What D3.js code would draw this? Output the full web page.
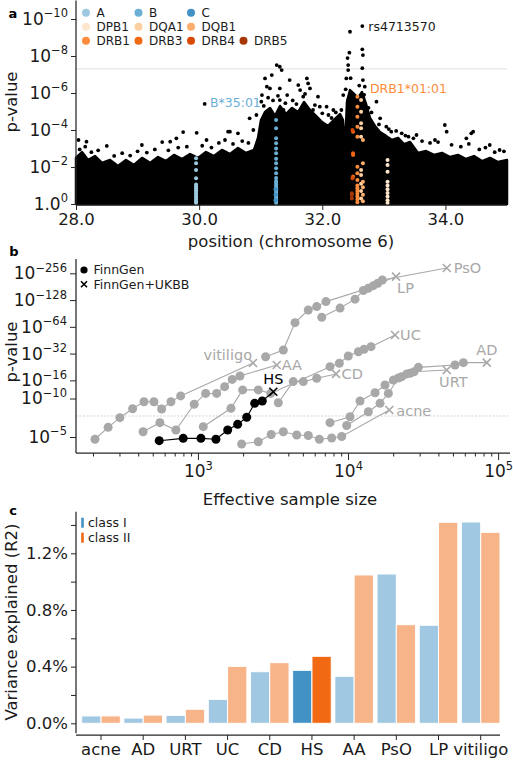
<!DOCTYPE html>
<html>
<head>
    <meta charset="utf-8" />
    <title>HLA associations</title>
    <style>
        body { margin: 0; background: #ffffff; }
        svg { font-family: 'DejaVu Sans', sans-serif; }
        .spine { stroke: #262626; stroke-width: 1.25px; fill: none; }
        .ticklabel { font-size: 16.5px; fill: #1a1a1a; }
        .mathlabel { font-size: 17px; fill: #1a1a1a; }
        .axislabel { font-size: 16.5px; fill: #1a1a1a; }
        .legend { font-size: 12.5px; fill: #1a1a1a; }
        .panel { font-size: 13px; font-weight: bold; fill: #000; }
        .dlabel { font-size: 14.5px; }
    </style>
    <script src="https://cdn.jsdelivr.net/npm/d3@7/dist/d3.min.js"></script>
</head>
<body>
<svg width="513" height="761"></svg>
<script>
    // ---- panel a: chromosome 6 MHC region, position (Mb) and -log10(p) ----
    // upper edge of the dense cloud of SNPs
    var denseEdge = [
        [28.000, 2.49], [28.097, 2.81], [28.195, 2.38], [28.309, 2.59], [28.422, 2.22], [28.552, 2.38],
        [28.682, 2.05], [28.812, 2.38], [28.942, 2.11], [29.072, 2.49], [29.202, 2.22], [29.332, 2.54],
        [29.462, 2.32], [29.592, 2.65], [29.722, 2.43], [29.852, 2.70], [29.981, 2.49], [30.111, 2.81],
        [30.241, 2.59], [30.371, 2.92], [30.501, 2.70], [30.631, 3.03], [30.761, 2.76], [30.891, 2.92],
        [30.956, 3.57], [31.005, 4.54], [31.070, 4.97], [31.151, 5.19], [31.232, 4.76], [31.313, 5.30],
        [31.411, 4.86], [31.508, 5.19], [31.606, 4.97], [31.703, 5.51], [31.801, 5.08], [31.898, 4.76],
        [31.996, 4.43], [32.093, 4.22], [32.190, 4.54], [32.288, 4.86], [32.336, 4.54], [32.369, 2.92],
        [32.401, 5.51], [32.450, 6.16], [32.515, 5.95], [32.580, 5.73], [32.645, 6.05], [32.710, 5.41],
        [32.775, 4.65], [32.856, 4.22], [32.937, 3.89], [33.035, 3.68], [33.132, 3.46], [33.230, 3.57],
        [33.327, 3.24], [33.425, 3.35], [33.555, 2.76], [33.685, 2.86], [33.814, 2.65], [33.944, 2.76],
        [34.074, 2.54], [34.204, 2.65], [34.334, 2.43], [34.464, 2.59], [34.594, 2.32], [34.724, 2.49],
        [34.854, 2.27], [35.000, 2.38]
    ];
    // SNPs standing out above the cloud
    var sparseSnps = [
        [28.04, 3.46], [28.17, 3.37], [28.15, 3.10], [28.50, 3.14], [29.07, 3.19], [29.40, 3.35],
        [29.53, 3.37], [29.63, 3.55], [29.74, 3.89], [29.96, 3.85], [30.09, 5.41], [30.12, 3.46],
        [30.47, 3.91], [30.63, 3.82], [30.88, 4.00], [30.42, 3.46], [30.50, 3.91], [30.82, 4.63],
        [30.93, 4.81], [31.01, 5.53],
        [31.26, 7.51], [31.31, 7.42], [31.34, 7.24], [31.07, 6.79], [31.10, 6.34], [31.15, 6.25],
        [31.31, 6.25], [31.47, 6.70], [31.61, 6.43], [31.75, 6.79], [31.77, 6.52], [31.64, 6.16],
        [31.69, 5.80], [31.80, 6.25], [31.31, 5.62], [31.37, 5.08], [31.93, 5.80], [31.96, 5.26],
        [32.07, 5.26], [32.18, 5.08], [31.85, 5.08], [32.10, 4.81], [32.29, 4.54], [31.18, 6.97],
        [31.43, 5.89], [31.02, 5.89],
        [32.45, 9.31], [32.65, 9.62], [32.44, 8.18], [32.65, 8.36], [32.66, 8.05], [32.42, 7.51],
        [32.42, 7.24], [32.39, 6.79], [32.65, 7.34], [32.66, 6.70], [32.69, 6.34], [32.34, 5.89],
        [32.42, 5.62], [32.31, 5.08], [32.88, 5.53], [32.94, 4.63], [32.41, 7.89],
        [33.04, 4.18], [33.12, 3.91], [33.26, 3.28], [33.29, 3.82], [33.40, 3.64], [33.53, 3.73],
        [33.83, 3.46], [33.99, 4.27], [34.02, 3.91], [34.34, 3.55], [34.42, 3.82], [34.45, 3.91],
        [34.72, 3.19], [34.88, 2.92],
        [28.06, 2.95], [28.25, 2.80], [28.36, 2.90], [28.62, 2.60], [28.75, 2.75], [28.88, 2.62],
        [29.00, 2.85], [29.15, 2.78], [29.28, 2.95], [29.50, 2.90], [29.66, 3.05], [29.80, 3.10],
        [30.05, 3.15], [30.20, 3.05], [30.32, 3.30], [30.55, 3.25], [30.70, 3.40], [30.80, 3.30],
        [31.05, 5.30], [31.12, 5.75], [31.20, 5.60], [31.28, 5.85], [31.40, 5.45], [31.52, 5.60],
        [31.58, 5.40], [31.72, 5.95], [31.88, 5.35], [32.00, 4.90], [32.15, 4.65], [32.22, 4.95],
        [32.38, 6.20], [32.46, 6.80], [32.60, 6.40], [32.68, 5.90], [32.75, 5.20], [32.80, 4.95],
        [32.92, 4.30],
        [33.08, 4.05], [33.20, 3.95], [33.35, 3.70], [33.48, 3.55], [33.62, 3.40], [33.75, 3.30],
        [33.88, 3.35], [34.10, 3.20], [34.25, 3.10], [34.38, 3.25], [34.55, 2.95], [34.65, 3.05],
        [34.80, 2.80], [34.95, 2.85]
    ];
    // HLA alleles, in legend order
    var hlaGenes = ['A', 'DPB1', 'DRB1', 'B', 'DQA1', 'DRB3', 'C', 'DQB1', 'DRB4', 'DRB5'];
    var hlaColors = ['#9ecae1', '#fee6ce', '#fd8d3c', '#6baed6', '#fdd0a2', '#f16913', '#4292c6', '#fdae6b', '#d94801', '#a63603'];
    var hlaGenePos = [29.95, 33.06, 32.57, 31.25, 32.63, 32.50, 31.24, 32.66, 32.49, 32.48];
    var hlaAlleleLogP = [
        [0.05, 0.15, 0.25, 0.35, 0.45, 0.55, 0.65, 0.75, 0.85, 0.95, 1.05, 1.39, 1.84, 2.2, 2.47],
        [0.05, 0.2, 0.4, 0.6, 0.8, 1.0, 1.2, 1.75, 2.11, 2.38],
        [0.1, 0.25, 0.4, 0.55, 0.7, 0.85, 1.0, 1.3, 1.66, 2.02, 3.64, 4.18, 4.72, 5.26, 5.8],
        [0.05, 0.15, 0.25, 0.35, 0.45, 0.55, 0.65, 0.75, 0.85, 0.95, 1.05, 1.15, 1.25, 1.4, 1.66, 1.93, 2.2, 2.45, 2.74, 3.0, 3.28, 3.55, 4.09, 4.54],
        [0.3, 0.7, 1.1, 1.57, 1.84, 3.64, 4.09, 4.36, 4.99, 5.62],
        [1.48, 2.65, 2.74, 3.91],
        [0.2, 0.5, 0.8],
        [0.15, 0.5, 0.9, 1.2, 2.2, 3.46],
        [1.39, 4.0],
        [0.3, 0.49, 0.58]
    ];
    var snpLabels = ['rs4713570', 'B*35:01', 'DRB1*01:01'];
    var snpLabelAt = [[32.65, 9.62], [30.09, 5.41], [32.57, 5.8]];
    var posTicks = [28, 30, 32, 34];
    var logPTicksA = [0, 2, 4, 6, 8, 10];
    var gwsLogP = -Math.log10(5e-8);

    // ---- panel b: FinnGen increments and FinnGen+UKBB meta-analysis ----
    var diseasesB = ['vitiligo', 'AA', 'HS', 'UC', 'CD', 'PsO', 'LP', 'acne', 'AD', 'URT'];
    var finngenN = [
        [206, 252, 302, 367, 437, 509, 573, 661, 767],
        [431, 558, 713, 944, 1126, 1333, 1507, 1693, 1905],
        [552, 798, 1047, 1318, 1578, 1839, 2113, 2388, 2684],
        [1085, 1660, 1986, 2523, 3053, 7586, 8750, 10040, 11720, 12790, 14230],
        [3431, 4315, 5035, 6185],
        [2825, 3707, 4434, 5433, 6185, 7129, 13650, 15780, 16930],
        [6679, 8850, 11140, 12650, 14750],
        [1954, 2523, 3076, 3707, 4550, 5433, 6442, 7780, 9078],
        [7586, 10310, 12020, 15140, 17640, 20050, 22800, 25880, 29420, 51640, 58720],
        [9795, 13650, 16340, 18570, 21640, 24620, 27540]
    ];
    var finngenLogP = [
        [4.80, 5.95, 7.08, 8.32, 9.44, 9.44, 8.28, 9.44, 10.7],
        [5.50, 6.47, 5.67, 9.01, 11.4, 11.4, 13.6, 16.4, 17.9],
        [4.68, 4.88, 4.88, 4.80, 5.67, 6.28, 7.13, 9.17, 9.56],
        [6.02, 8.38, 12.5, 12.5, 11.4, 22.8, 24.9, 30.1, 33.6, 35.8, 38.3],
        [9.27, 15.5, 15.5, 16.9],
        [29.5, 35.1, 71.3, 99.0, 108, 123, 174, 198, 215],
        [81.9, 104, 131, 164, 186],
        [4.41, 4.59, 5.23, 5.50, 5.18, 5.14, 4.80, 4.91, 5.05],
        [6.47, 7.20, 9.56, 11.6, 14.2, 16.1, 17.6, 19.2, 22.4, 23.8, 25.3],
        [6.15, 7.88, 9.17, 11.4, 17.0, 18.9, 20.0]
    ];
    var combinedN = [2328, 3350, 3178, 20570, 8318, 45500, 20890, 18840, 84070, 45500];
    var combinedLogP = [25.1, 23.8, 11.9, 51.8, 18.9, 294, 235, 8.13, 25.3, 20.9];
    var logPTicksB = [5, 10, 16, 32, 64, 128, 256];
    var nTicksB = [1e3, 1e4, 1e5];

    // ---- panel c: variance explained (%) ----
    var diseasesC = ['acne', 'AD', 'URT', 'UC', 'CD', 'HS', 'AA', 'PsO', 'LP', 'vitiligo'];
    var r2ClassI = [0.052, 0.037, 0.056, 0.169, 0.364, 0.374, 0.332, 1.054, 0.692, 1.421];
    var r2ClassII = [0.052, 0.058, 0.099, 0.402, 0.428, 0.473, 1.047, 0.696, 1.419, 1.348];
    var hlaClasses = ['class I', 'class II'];
    var r2Ticks = [0, 0.2, 0.4, 0.6, 0.8, 1.0, 1.2, 1.4];

    var svg = d3.select('svg');
    var grey = '#a8a8a8';

    function tidyAxis(g) {
        g.attr('font-family', null).attr('font-size', null);
        g.select('.domain').remove();
        g.selectAll('.tick line').attr('stroke', '#262626');
        g.selectAll('.tick text').attr('fill', null).attr('class', 'ticklabel');
    }

    function powerLabel(text, base, exp) {
        text.text(null).attr('class', 'mathlabel');
        text.append('tspan').text(base);
        text.append('tspan').attr('dy', -7.5).attr('font-size', '11.5px').text(exp);
    }

    function spine(g, x1, y1, x2, y2) {
        g.append('line').attr('class', 'spine')
            .attr('x1', x1).attr('y1', y1).attr('x2', x2).attr('y2', y2);
    }

    function yLabel(g, x, y, txt) {
        g.append('text').attr('class', 'axislabel')
            .attr('transform', 'translate(' + x + ',' + y + ') rotate(-90)')
            .attr('text-anchor', 'middle').attr('dy', '0.35em').text(txt);
    }

    // ================= panel a =================
    var xA = d3.scaleLinear().domain([28, 35]).range([76, 507]);
    var yA = d3.scaleLinear().domain([0, 11]).range([204, 0.5]);
    var panelA = svg.append('g');

    panelA.append('line')
        .attr('x1', xA(28)).attr('x2', xA(35))
        .attr('y1', yA(gwsLogP)).attr('y2', yA(gwsLogP))
        .attr('stroke', '#e0e0e0').attr('stroke-width', 1);

    panelA.append('path').datum(denseEdge)
        .attr('fill', '#000').attr('stroke', '#000').attr('stroke-width', 2.5)
        .attr('stroke-linejoin', 'round')
        .attr('d', d3.area().x(function(d) { return xA(d[0]); })
            .y0(yA(0)).y1(function(d) { return yA(d[1]); }));

    panelA.selectAll('circle.snp').data(sparseSnps).enter().append('circle')
        .attr('class', 'snp')
        .attr('cx', function(d) { return xA(d[0]); })
        .attr('cy', function(d) { return yA(d[1]); })
        .attr('r', 1.9).attr('fill', '#000');

    var alleles = [];
    hlaGenes.forEach(function(g, i) {
        hlaAlleleLogP[i].forEach(function(v) {
            alleles.push({ gene: g, color: hlaColors[i], pos: hlaGenePos[i], logp: v });
        });
    });
    panelA.selectAll('circle.allele').data(alleles).enter().append('circle')
        .attr('class', 'allele')
        .attr('cx', function(d) { return xA(d.pos); })
        .attr('cy', function(d) { return yA(d.logp); })
        .attr('r', 2).attr('fill', function(d) { return d.color; });

    var snpLabelStyle = [
        { dx: 6, dy: 0.7, color: '#1a1a1a' },
        { dx: 5.3, dy: -1.3, color: '#6baed6' },
        { dx: 12.5, dy: -8.4, color: '#fd8d3c' }
    ];
    panelA.selectAll('text.snplabel').data(snpLabels).enter().append('text')
        .attr('class', 'legend snplabel')
        .attr('x', function(d, i) { return xA(snpLabelAt[i][0]) + snpLabelStyle[i].dx; })
        .attr('y', function(d, i) { return yA(snpLabelAt[i][1]) + snpLabelStyle[i].dy; })
        .attr('dy', '0.35em')
        .style('fill', function(d, i) { return snpLabelStyle[i].color; })
        .text(function(d) { return d; });

    // legend: three columns of three, the tenth entry closes the last row
    var legA = panelA.selectAll('g.leg').data(hlaGenes).enter().append('g')
        .attr('class', 'leg')
        .attr('transform', function(d, i) {
            var col = i < 9 ? Math.floor(i / 3) : 3;
            var row = i < 9 ? i % 3 : 2;
            return 'translate(' + (86 + col * 52.5) + ',' + (12.7 + row * 14) + ')';
        });
    legA.append('circle').attr('r', 4).attr('fill', function(d, i) { return hlaColors[i]; });
    legA.append('text').attr('class', 'legend').attr('x', 10.5).attr('dy', '0.35em')
        .style('font-size', '12px')
        .text(function(d) { return d; });

    spine(panelA, 76, yA(11), 76, yA(0));
    spine(panelA, 76, 205, 507, 205);
    panelA.append('g').attr('transform', 'translate(76,0)')
        .call(d3.axisLeft(yA).tickValues(logPTicksA).tickSize(5).tickPadding(3))
        .call(tidyAxis)
        .selectAll('.tick text').each(function(d) {
            if (d === 0) powerLabel(d3.select(this), '1.0', '0');
            else powerLabel(d3.select(this), '10', '\u2212' + d);
        });
    panelA.append('g').attr('transform', 'translate(0,205)')
        .call(d3.axisBottom(xA).tickValues(posTicks).tickSize(5).tickPadding(3).tickFormat(d3.format('.1f')))
        .call(tidyAxis);

    yLabel(panelA, 11, 102, 'p-value');
    panelA.append('text').attr('class', 'axislabel').attr('x', 291).attr('y', 241)
        .attr('text-anchor', 'middle').attr('dy', '0.35em').text('position (chromosome 6)');
    panelA.append('text').attr('class', 'panel').attr('x', 13).attr('y', 18).attr('text-anchor', 'middle').text('a');

    // ================= panel b =================
    var xB = d3.scaleLog().domain([154, 120000]).range([76, 510]);
    var yBlog = d3.scaleLinear()
        .domain([Math.log2(5), Math.log2(10), Math.log2(256)])
        .range([437, 398.5, 273.3]);
    function yB(v) { return yBlog(Math.log2(v)); }
    var panelB = svg.append('g');

    panelB.append('line')
        .attr('x1', 76).attr('x2', 510)
        .attr('y1', yB(gwsLogP)).attr('y2', yB(gwsLogP))
        .attr('stroke', '#c8c8c8').attr('stroke-width', 0.8).attr('stroke-dasharray', '2,1.5');

    var series = diseasesB.map(function(name, i) {
        var pts = finngenN[i].map(function(n, j) { return [n, finngenLogP[i][j]]; });
        return {
            name: name,
            color: name === 'HS' ? '#000' : grey,
            circles: pts,
            cross: [combinedN[i], combinedLogP[i]],
            path: pts.concat([[combinedN[i], combinedLogP[i]]])
        };
    });
    // grey first, HS on top
    series.sort(function(a, b) { return (a.name === 'HS') - (b.name === 'HS'); });

    var lineB = d3.line()
        .x(function(d) { return xB(d[0]); })
        .y(function(d) { return yB(d[1]); });
    var crossPath = 'M-4,-4L4,4M-4,4L4,-4';

    var sg = panelB.selectAll('g.series').data(series).enter().append('g').attr('class', 'series');
    sg.append('path')
        .attr('fill', 'none').attr('stroke-width', 1.1)
        .attr('stroke', function(d) { return d.color; })
        .attr('d', function(d) { return lineB(d.path); });
    sg.each(function(s) {
        d3.select(this).selectAll('circle').data(s.circles).enter().append('circle')
            .attr('cx', function(d) { return xB(d[0]); })
            .attr('cy', function(d) { return yB(d[1]); })
            .attr('r', 4.5).attr('fill', s.color);
    });
    sg.append('path')
        .attr('d', crossPath).attr('fill', 'none').attr('stroke-width', 1.6)
        .attr('stroke', function(d) { return d.color; })
        .attr('transform', function(d) {
            return 'translate(' + xB(d.cross[0]) + ',' + yB(d.cross[1]) + ')';
        });

    var labelOffset = {
        PsO: [7, 0, 'start'], LP: [1, 11, 'start'], UC: [5, 0, 'start'], AD: [0, -12.5, 'middle'],
        vitiligo: [-1, -8, 'end'], AA: [5, 0, 'start'], CD: [5.5, 0, 'start'], HS: [0, -12.5, 'middle'],
        URT: [6.5, 12.3, 'middle'], acne: [7, 0.7, 'start']
    };
    sg.append('text').attr('class', 'dlabel')
        .attr('x', function(d) { return xB(d.cross[0]) + labelOffset[d.name][0]; })
        .attr('y', function(d) { return yB(d.cross[1]) + labelOffset[d.name][1]; })
        .attr('dy', '0.35em')
        .attr('text-anchor', function(d) { return labelOffset[d.name][2]; })
        .style('fill', function(d) { return d.color; })
        .text(function(d) { return d.name; });

    spine(panelB, 76, yB(370), 76, 453);
    spine(panelB, 76, 453, 510, 453);
    panelB.append('g').attr('transform', 'translate(76,0)')
        .call(d3.axisLeft(yBlog).tickValues(logPTicksB.map(Math.log2)).tickSize(6).tickPadding(3))
        .call(tidyAxis)
        .selectAll('.tick text').each(function(d) {
            powerLabel(d3.select(this), '10', '\u2212' + Math.round(Math.pow(2, d)));
        });
    var minorN = [];
    [100, 1000, 10000].forEach(function(dec) {
        for (var k = 2; k <= 9; k++) minorN.push(k * dec);
    });
    minorN = minorN.filter(function(n) { return n >= 154; });
    panelB.append('g').attr('transform', 'translate(0,453)')
        .call(d3.axisBottom(xB).tickValues(minorN).tickSize(3.5).tickFormat(''))
        .call(tidyAxis);
    panelB.append('g').attr('transform', 'translate(0,453)')
        .call(d3.axisBottom(xB).tickValues(nTicksB).tickSize(7).tickPadding(5))
        .call(tidyAxis)
        .selectAll('.tick text').each(function(d) {
            powerLabel(d3.select(this), '10', String(Math.round(Math.log10(d))));
        });

    var legB = panelB.append('g').attr('transform', 'translate(84,270)');
    legB.append('circle').attr('r', 3.6).attr('fill', '#000');
    legB.append('text').attr('class', 'legend').attr('x', 9.5).attr('dy', '0.35em').text('FinnGen');
    legB.append('path').attr('d', 'M-3,-3L3,3M-3,3L3,-3').attr('stroke', '#000')
        .attr('stroke-width', 1.6).attr('transform', 'translate(0,14.3)');
    legB.append('text').attr('class', 'legend').attr('x', 9.5).attr('y', 14.3).attr('dy', '0.35em').text('FinnGen+UKBB');

    yLabel(panelB, 11, 352, 'p-value');
    panelB.append('text').attr('class', 'axislabel').attr('x', 290).attr('y', 499)
        .attr('text-anchor', 'middle').attr('dy', '0.35em').text('Effective sample size');
    panelB.append('text').attr('class', 'panel').attr('x', 14).attr('y', 256).attr('text-anchor', 'middle').text('b');

    // ================= panel c =================
    var xC = d3.scaleBand().domain(diseasesC).range([76, 505.7]).paddingInner(0.085).paddingOuter(0.135);
    var xSub = d3.scaleBand().domain(hlaClasses).range([0, xC.bandwidth()]);
    var yC = d3.scaleLinear().domain([0, 1.2]).range([723.3, 553.3]);
    var classColors = ['#4292c6', '#f16913'];
    var panelC = svg.append('g');

    var bars = [];
    diseasesC.forEach(function(d, i) {
        bars.push({ disease: d, cls: hlaClasses[0], value: r2ClassI[i], color: classColors[0] });
        bars.push({ disease: d, cls: hlaClasses[1], value: r2ClassII[i], color: classColors[1] });
    });
    panelC.selectAll('rect.bar').data(bars).enter().append('rect')
        .attr('class', 'bar')
        .attr('x', function(d) { return xC(d.disease) + xSub(d.cls); })
        .attr('width', xSub.bandwidth())
        .attr('y', function(d) { return yC(d.value); })
        .attr('height', function(d) { return yC(0) - yC(d.value); })
        .attr('fill', function(d) { return d.color; })
        .attr('fill-opacity', function(d) { return d.disease === 'HS' ? 1 : 0.5; })
        .attr('stroke', '#fff').attr('stroke-width', 1);

    spine(panelC, 76, yC(1.494), 76, yC(-0.07));
    spine(panelC, 76, 735, 500, 735);
    panelC.append('g').attr('transform', 'translate(76,0)')
        .call(d3.axisLeft(yC).tickValues(r2Ticks).tickSize(5).tickPadding(3)
            .tickFormat(function(d) { return Math.round(d * 10) % 4 === 0 ? d.toFixed(1) + '%' : ''; }))
        .call(tidyAxis);
    panelC.append('g').attr('transform', 'translate(0,735)')
        .call(d3.axisBottom(xC).tickSize(5).tickPadding(3))
        .call(tidyAxis);

    var legC = panelC.selectAll('g.legc').data(hlaClasses).enter().append('g')
        .attr('class', 'legc')
        .attr('transform', function(d, i) { return 'translate(82.5,' + (522.7 + i * 15) + ')'; });
    legC.append('rect').attr('x', -1.3).attr('y', -5).attr('width', 2.6).attr('height', 10)
        .attr('fill', function(d, i) { return classColors[i]; });
    legC.append('text').attr('class', 'legend').attr('x', 5.5).attr('dy', '0.35em')
        .text(function(d) { return d; });

    yLabel(panelC, 11, 622, 'Variance explained (R2)');
    panelC.append('text').attr('class', 'panel').attr('x', 13).attr('y', 515).attr('text-anchor', 'middle').text('c');
</script>
</body>
</html>
